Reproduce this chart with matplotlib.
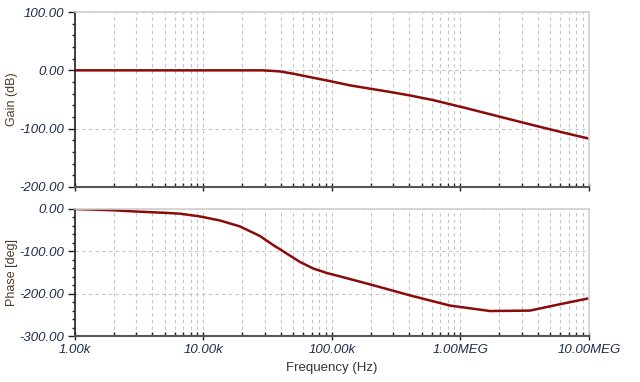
import matplotlib.pyplot as plt
from matplotlib.ticker import FixedLocator, LogLocator, NullFormatter
import numpy as np

# values
freq_gain = [1e3, 2e3, 5e3, 1e4, 2e4, 2.9e4, 3.9e4, 5e4, 6.7e4, 9.6e4, 1.38e5,
             1.98e5, 2.83e5, 4.05e5, 6.14e5, 1.12e6, 2.03e6, 3.69e6, 6.7e6, 1e7]
gain_db = [0, 0, 0, 0, 0, 0, -1.7, -5.7, -11.4, -18.3, -25.7,
           -31.4, -37, -43, -51, -65, -79.5, -94, -108, -117]

freq_phase = [1e3, 2e3, 3e3, 5e3, 6.56e3, 9.4e3, 1.34e4, 1.92e4, 2.75e4,
              3.49e4, 4.44e4, 5.64e4, 7.16e4, 9.1e4, 1.15e5, 1.98e5, 4.05e5,
              8.28e5, 1.7e6, 3.48e6, 5.95e6, 1e7]
phase_deg = [0, -3, -6, -9, -11, -17.6, -27, -41, -63.6,
             -85, -105, -125, -140.5, -151, -159, -178, -204,
             -228, -241, -240, -225, -211]

x_ticks = [1e3, 1e4, 1e5, 1e6, 1e7]
x_labels = ['1.00k', '10.00k', '100.00k', '1.00MEG', '10.00MEG']
gain_ticks = [100, 0, -100, -200]
phase_ticks = [0, -100, -200, -300]

plt.rcParams['font.family'] = ['Liberation Sans', 'DejaVu Sans']

line_c = '#8b0a0a'
tick_c = '#1e2c4c'
lab_c = '#4f3a25'
grid_kw = dict(color='#c4c4c4', linestyle=(0, (3, 3)), linewidth=0.8)

fig = plt.figure(figsize=(6.4, 3.82), dpi=100)
ax1 = fig.add_axes([0.117, 0.5105, 0.803, 0.458])
ax2 = fig.add_axes([0.117, 0.1204, 0.803, 0.3325])


def style(ax, yticks, ylab, show_x):
    ax.set_xscale('log')
    ax.set_xlim(1e3, 1e7)
    ax.set_ylim(yticks[-1], yticks[0])
    ax.set_yticks(yticks)
    ax.set_yticklabels(['%.2f' % v for v in yticks])
    ax.yaxis.set_minor_locator(FixedLocator(np.arange(yticks[-1], yticks[0], 20)))
    ax.set_xticks(x_ticks)
    ax.xaxis.set_minor_locator(LogLocator(base=10, subs=np.arange(2, 10)))
    ax.xaxis.set_minor_formatter(NullFormatter())
    if show_x:
        ax.set_xticklabels(x_labels)
    else:
        ax.set_xticklabels([])
    ax.grid(True, which='major', axis='y', **grid_kw)
    ax.grid(True, which='both', axis='x', **grid_kw)
    ax.set_axisbelow(True)
    for s in ['top', 'right']:
        ax.spines[s].set_color('#d0d0d0')
        ax.spines[s].set_linewidth(1.2)
    ax.spines['left'].set_color('#222222')
    ax.spines['bottom'].set_color('#555555')
    ax.spines['left'].set_linewidth(1.2)
    ax.spines['bottom'].set_linewidth(1.5)
    ax.tick_params(axis='y', which='major', length=5, width=1, color='#222222',
                   labelsize=9.5, labelcolor=tick_c, pad=2.5)
    ax.tick_params(axis='y', which='minor', length=2.5, width=1, color='#222222')
    ax.tick_params(axis='x', which='major', direction='inout', length=6,
                   width=1, color='#222222', labelsize=9.5, labelcolor=tick_c, pad=3)
    ax.tick_params(axis='x', which='minor', direction='in', length=3,
                   width=1, color='#222222')
    for t in ax.get_yticklabels() + ax.get_xticklabels():
        t.set_fontstyle('italic')
    ax.set_ylabel(ylab, fontsize=9, color=lab_c)
    ax.yaxis.set_label_coords(-0.11, 0.5)


ax1.plot(freq_gain, gain_db, color=line_c, linewidth=1.8)
style(ax1, gain_ticks, 'Gain (dB)', False)

ax2.plot(freq_phase, phase_deg, color=line_c, linewidth=1.8)
style(ax2, phase_ticks, 'Phase [deg]', True)
ax2.set_xlabel('Frequency (Hz)', fontsize=9.5, color='#333333', labelpad=4)

fig.savefig('out.png', dpi=100)
